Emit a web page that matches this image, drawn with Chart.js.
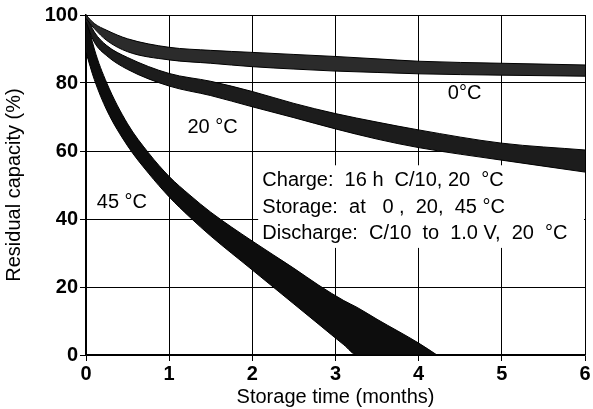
<!DOCTYPE html>
<html lang="en">
  <head>
    <meta charset="UTF-8" />
    <title>Residual capacity vs storage time</title>
    <script src="https://cdn.jsdelivr.net/npm/chart.js"></script>
    <style>
      body { margin: 0; background: #fff; }
      #wrap { width: 593px; height: 409px; }
    </style>
  </head>
  <body>
    <div id="wrap"><canvas id="chart" width="593" height="409"></canvas></div>
    <script>
      // storage time (months) sampled along each band
      const months = [0, 0.1, 0.25, 0.5, 1, 1.5, 2, 2.5, 3, 3.5, 4, 5, 6];
      const upper0 = [100, 97.5, 95.5, 93, 90.5, 89.6, 89, 88.4, 87.8, 87.1, 86.4, 85.8, 85.3];
      const lower0 = [99, 96, 92.5, 89.2, 86.8, 85.8, 84.8, 84.1, 83.5, 83.1, 82.7, 82.3, 82];
      const upper20 = [100, 95, 91, 87.5, 82.8, 80.5, 77.5, 74, 71, 68.5, 66.2, 62.3, 60.3];
      const lower20 = [98, 92, 88, 84, 79.1, 76.3, 73, 69.8, 66.5, 63.5, 61, 57.3, 53.8];

      const months45 = [0, 0.1, 0.25, 0.5, 0.75, 1, 1.25, 1.5, 2, 2.5, 2.8, 3.1, 3.26, 3.5, 4, 4.22];
      const upper45 = [100, 90, 80, 68, 59.5, 52.5, 47, 42, 33.5, 25.5, 20.5, 16, 14, 10.5, 3.5, 0];
      const lower45 = [89, 81, 72, 61.5, 53.5, 46.5, 40.5, 35, 25, 15, 9, 3, 0, 0, 0, 0];

      const xTicks = [0, 1, 2, 3, 4, 5, 6];
      const yTicks = [0, 20, 40, 60, 80, 100];

      const bandLabels = ['0°C', '20 °C', '45 °C'];
      const noteLines = [
        'Charge:  16 h  C/10, 20  °C',
        'Storage:  at   0 ,  20,  45 °C',
        'Discharge:  C/10  to  1.0 V,  20  °C'
      ];

      const pts = (xs, ys) => xs.map((x, i) => ({ x: x, y: ys[i] }));

      function band(xs, up, lo, color) {
        const common = {
          borderColor: '#000',
          borderWidth: 1,
          pointRadius: 0,
          cubicInterpolationMode: 'monotone'
        };
        return [
          Object.assign({ data: pts(xs, up), fill: false }, common),
          Object.assign({ data: pts(xs, lo), fill: '-1', backgroundColor: color }, common)
        ];
      }

      const FONT = "'Liberation Sans', Arial, sans-serif";

      // white box behind the test conditions, then the text labels
      const notes = {
        id: 'notes',
        beforeDatasetsDraw(chart) {
          const { ctx, scales: { x, y } } = chart;
          ctx.save();
          ctx.fillStyle = '#fff';
          const l = x.getPixelForValue(2.07), r = x.getPixelForValue(6) - 1;
          const t = y.getPixelForValue(55.8), b = y.getPixelForValue(31.5);
          ctx.fillRect(l, t, r - l, b - t);
          ctx.restore();
        },
        afterDatasetsDraw(chart) {
          const { ctx, scales: { x, y } } = chart;
          ctx.save();
          ctx.fillStyle = '#000';
          ctx.textBaseline = 'middle';
          ctx.font = '20px ' + FONT;
          ctx.textAlign = 'left';
          ctx.fillText(bandLabels[0], x.getPixelForValue(4.35), y.getPixelForValue(76.8));
          ctx.fillText(bandLabels[1], x.getPixelForValue(1.22), y.getPixelForValue(66.8));
          ctx.fillText(bandLabels[2], x.getPixelForValue(0.13), y.getPixelForValue(45));
          noteLines.forEach((s, i) => {
            ctx.fillText(s, x.getPixelForValue(2.12), y.getPixelForValue(51.2 - i * 7.7));
          });
          ctx.restore();
        }
      };

      new Chart(document.getElementById('chart'), {
        type: 'line',
        data: {
          datasets: [
            ...band(months, upper0, lower0, '#2b2b2b'),
            ...band(months, upper20, lower20, '#1c1c1c'),
            ...band(months45, upper45, lower45, '#0d0d0d')
          ]
        },
        options: {
          responsive: false,
          animation: false,
          layout: { padding: { top: 15, right: 8, left: 0, bottom: 0 } },
          plugins: { legend: { display: false }, tooltip: { enabled: false } },
          scales: {
            x: {
              type: 'linear',
              min: 0,
              max: 6,
              afterBuildTicks: (s) => { s.ticks = xTicks.map(v => ({ value: v })); },
              afterFit: (s) => { s.height = 54; },
              grid: { color: '#000', lineWidth: 1, tickLength: 6 },
              border: { color: '#000', width: 1.5 },
              ticks: { color: '#000', padding: 1, font: { family: FONT, size: 20, weight: 'bold' } },
              title: {
                display: true,
                text: 'Storage time (months)',
                color: '#000',
                padding: { top: 0, bottom: 0 },
                font: { family: FONT, size: 20 }
              }
            },
            y: {
              min: 0,
              max: 100,
              afterBuildTicks: (s) => { s.ticks = yTicks.map(v => ({ value: v })); },
              afterFit: (s) => { s.width = 86; },
              grid: { color: '#000', lineWidth: 1, tickLength: 6 },
              border: { color: '#000', width: 1.5 },
              ticks: { color: '#000', padding: 2, font: { family: FONT, size: 20, weight: 'bold' } },
              title: {
                display: true,
                text: 'Residual capacity (%)',
                color: '#000',
                padding: { top: 2, bottom: 0 },
                font: { family: FONT, size: 20 }
              }
            }
          }
        },
        plugins: [notes]
      });
    </script>
  </body>
</html>
